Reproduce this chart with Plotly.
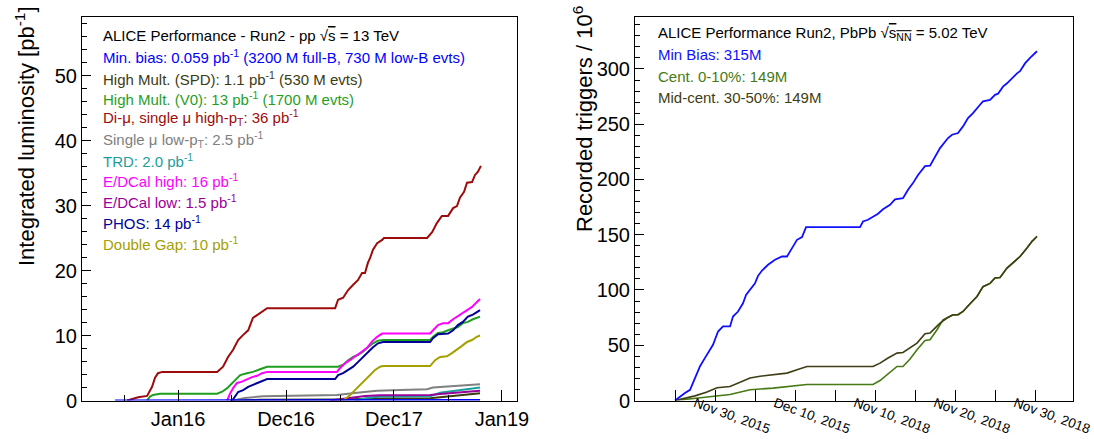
import pandas as pd
import plotly.graph_objects as go

# ---------------- Left panel: pp 13 TeV, integrated luminosity (pb^-1) ----------------
START = "2016-01-01"   # x values below are days since START

mb_days = [-213, -54, 301, 696, 1021]
mb_lumi = [0, 0.01, 0.025, 0.04, 0.059]

spd_days = [176, 277, 548, 683, 852, 902, 970, 1021]
spd_lumi = [0, 0.1, 0.15, 0.3, 0.35, 0.55, 0.85, 1.1]

v0_days = [-105, -95, -85, -61, 132, 149, 166, 183, 199, 210, 233, 253, 277, 301,
           541, 558, 575, 592, 608, 625, 642, 659, 676, 693,
           852, 862, 879, 896, 913, 930, 946, 963, 980, 997, 1021]
v0_lumi = [0, 0.6, 0.85, 1.05, 1.05, 1.35, 1.9, 2.7, 3.4, 3.9, 4.2, 4.4, 4.8, 5.2,
           5.2, 5.5, 6.2, 6.7, 7.0, 7.5, 8.2, 8.8, 9.2, 9.3,
           9.3, 9.8, 10.4, 10.5, 10.8, 11.0, 11.3, 11.9, 12.1, 12.5, 12.9]

dimu_days = [-172, -135, -105, -88, -78, -68, -54,
             132, 152, 169, 186, 203, 220, 237, 253, 270, 284, 301,
             531, 541, 558, 575, 592, 608, 622, 632, 642, 649, 659, 673, 690, 696,
             842, 859, 875, 892, 913, 930, 943, 953, 967, 977, 994, 1004, 1014, 1024]
dimu_lumi = [0, 0.5, 0.7, 2.1, 3.5, 4.2, 4.4,
             4.4, 5.2, 6.7, 7.8, 9.3, 10.1, 10.8, 12.7, 13.2, 13.6, 14.2,
             14.2, 15.5, 15.8, 17.0, 17.8, 18.5, 19.6, 19.6, 21.2, 21.9, 23.2, 24.2, 24.7, 25.0,
             25.0, 25.9, 27.3, 28.4, 28.4, 29.6, 29.9, 31.2, 32.1, 33.5, 33.6, 34.7, 35.2, 36.1]

mulow_days = [186, 226, 287, 412, 537, 605, 673, 750, 842, 862, 936, 1021]
mulow_lumi = [0, 0.4, 0.65, 0.75, 0.85, 1.2, 1.5, 1.6, 1.75, 2.0, 2.25, 2.5]

trd_days = [598, 639, 683, 852, 886, 953, 1021]
trd_lumi = [0, 0.4, 0.6, 0.65, 1.2, 1.6, 2.0]

emch_days = [166, 176, 186, 199, 216, 233, 250, 267, 284, 301,
             537, 548, 564, 581, 598, 615, 639, 656, 673, 690,
             852, 862, 879, 896, 913, 930, 943, 960, 977, 994, 1007, 1021]
emch_lumi = [0, 1.1, 1.9, 2.7, 2.9, 3.3, 3.6, 3.8, 4.2, 4.4,
             4.4, 5.0, 5.7, 6.2, 6.7, 7.3, 8.1, 9.1, 9.8, 10.3,
             10.3, 10.8, 11.6, 11.9, 11.9, 12.5, 12.9, 13.4, 13.9, 14.4, 15.0, 15.6]

emcl_days = [514, 564, 632, 683, 852, 886, 953, 1021]
emcl_lumi = [0, 0.3, 0.7, 0.8, 0.85, 1.0, 1.2, 1.5]

phos_days = [183, 193, 203, 220, 237, 253, 270, 287, 301,
             531, 541, 558, 575, 592, 608, 625, 642, 659, 676, 693,
             852, 862, 879, 896, 913, 930, 946, 963, 980, 997, 1021]
phos_lumi = [0, 0.7, 1.3, 1.6, 2.1, 2.4, 2.7, 3.0, 3.3,
             3.3, 3.9, 4.2, 4.7, 5.2, 5.9, 6.7, 7.5, 8.2, 8.8, 9.0,
             9.0, 9.6, 10.2, 10.3, 10.3, 10.8, 11.6, 12.1, 12.9, 13.2, 13.9]

dg_days = [558, 581, 598, 615, 632, 649, 666, 683, 693,
           852, 869, 886, 909, 926, 943, 960, 977, 994, 1010, 1021]
dg_lumi = [0, 0.8, 1.6, 2.4, 3.2, 3.9, 4.7, 5.2, 5.3,
           5.3, 6.2, 6.7, 6.8, 7.3, 7.8, 8.4, 9.0, 9.3, 9.8, 10.0]

left_title = "ALICE Performance - Run2 - pp √<span style='text-decoration:overline'>s</span> = 13 TeV"
left_labels = [
    "Min. bias: 0.059 pb<sup>-1</sup> (3200 M full-B, 730 M low-B evts)",
    "High Mult. (SPD): 1.1 pb<sup>-1</sup> (530 M evts)",
    "High Mult. (V0): 13 pb<sup>-1</sup> (1700 M evts)",
    "Di-μ, single μ high-p<sub>T</sub>: 36 pb<sup>-1</sup>",
    "Single μ low-p<sub>T</sub>: 2.5 pb<sup>-1</sup>",
    "TRD: 2.0 pb<sup>-1</sup>",
    "E/DCal high: 16 pb<sup>-1</sup>",
    "E/DCal low: 1.5 pb<sup>-1</sup>",
    "PHOS: 14 pb<sup>-1</sup>",
    "Double Gap: 10 pb<sup>-1</sup>",
]
left_colors = ["#0000ff", "#3b3b14", "#1f9f1f", "#9e0b0b", "#808080",
               "#1a9e9e", "#ff00ff", "#990099", "#000099", "#a3a000"]

left_tick_dates = ["2016-01-01", "2016-12-31", "2017-12-31", "2018-12-31"]
left_tick_text = ["Jan16", "Dec16", "Dec17", "Jan19"]
left_minor_dates = ["2015-07-03", "2016-07-01", "2017-07-02", "2018-07-02"]
left_range = ["2015-02-10", "2019-02-20"]

# ---------------- Right panel: PbPb 5.02 TeV, recorded triggers (10^6) ----------------
# x: running-day index of the combined 2015 + 2018 Pb-Pb periods
mbpb_day = [0, 0.63, 1.25, 1.88, 2.25, 2.75, 3.13, 3.75, 4.38, 4.75, 5.38, 6.0, 6.88, 7.25,
            7.88, 8.5, 8.88, 9.38, 10.0, 10.38, 10.88, 11.63, 12.5, 13.38, 14.0, 14.63,
            15.25, 15.88, 16.38, 23.13, 23.5, 24.13, 24.75, 25.38, 26.0, 26.88, 27.5, 28.5,
            29.13, 29.75, 30.38, 31.0, 31.25, 31.88, 32.5, 33.13, 34.13, 34.63, 35.38, 36.0,
            36.63, 37.25, 38.13, 38.5, 39.38, 40.0, 40.38, 41.0, 41.5, 42.13, 42.75, 43.13,
            43.75, 44.38, 45.25]
mbpb_trig = [0, 3.6, 6.7, 9.7, 16, 25, 31, 38.6, 45.9, 50.4, 62.4, 67, 67, 76,
             80.5, 88, 95.6, 100.2, 106, 112.8, 117.6, 122.8, 127.3, 130.3, 130.3, 137.9,
             145.4, 147.9, 156.9, 156.9, 162, 163.5, 166, 169, 173, 177, 182, 183,
             190.7, 196.7, 204, 210, 212, 212.4, 221, 228.4, 237.5, 240.5, 242, 248,
             255.6, 260, 267.6, 270.6, 272, 276.6, 277.6, 284, 287, 292, 296, 298,
             305, 310, 316]

cent_day = [0, 2.5, 4.75, 6.88, 9.38, 12.25, 16.5, 24.75, 25.63, 26.63, 27.75, 28.5,
            29.38, 30.25, 31.25, 31.88, 32.75, 33.5, 34.63, 35.38, 36.0, 36.88, 37.75,
            38.5, 39.38, 40.0, 40.63, 41.5, 42.25, 43.13, 44.0, 44.63, 45.25]
cent_trig = [0, 2.1, 4.2, 5.4, 9.7, 11.2, 14.5, 14.5, 18.1, 24.2, 30.8, 30.8,
             37.5, 45.9, 54.3, 55, 64, 73, 77.2, 77.6, 80.6, 87.5, 94.1,
             103, 106, 110.8, 111.3, 119.8, 124.3, 130.3, 138, 144, 148.6]

mid_day = [0, 2.5, 4.0, 5.25, 6.88, 8.13, 9.38, 10.63, 12.25, 14.0, 15.25, 16.5, 24.75,
           25.63, 26.63, 27.75, 28.5, 29.38, 30.25, 31.25, 31.88, 32.5, 33.13, 34.0, 34.75,
           35.38, 36.0, 36.88, 37.75, 38.5, 39.38, 40.0, 40.63, 41.5, 42.25, 43.13, 44.0,
           44.63, 45.25]
mid_trig = [0, 4.2, 7.6, 11.5, 12.7, 16.6, 20.3, 22, 23.6, 24.8, 27.8, 30.8, 30.8,
            33.8, 38.4, 42.9, 43.4, 47.4, 51.9, 60.4, 61, 65.5, 70, 74.6, 77.6,
            77.6, 80.6, 87.5, 94.1, 103, 106, 110.8, 111.3, 119.8, 124.3, 130.3, 138,
            144, 148.4]

right_title = "ALICE Performance Run2, PbPb √<span style='text-decoration:overline'>s<sub>NN</sub></span> = 5.02 TeV"
right_labels = ["Min Bias: 315M", "Cent. 0-10%: 149M", "Mid-cent. 30-50%: 149M"]
right_colors = ["#1010ff", "#467a14", "#3e3e14"]

right_tick_vals = [5, 15, 25, 35, 45]
right_tick_text = ["Nov 30, 2015", "Dec 10, 2015", "Nov 10, 2018", "Nov 20, 2018", "Nov 30, 2018"]
right_minor_vals = [0, 10, 20, 30, 40]

# ---------------- Build figure ----------------
W, H = 1094, 439
FONT = "Liberation Sans, Arial, Helvetica, sans-serif"
start = pd.Timestamp(START)


def to_dates(days):
    return start + pd.to_timedelta(days, unit="D")


fig = go.Figure()

left_series = [
    (spd_days, spd_lumi, left_colors[1]),
    (v0_days, v0_lumi, left_colors[2]),
    (dimu_days, dimu_lumi, left_colors[3]),
    (mulow_days, mulow_lumi, left_colors[4]),
    (trd_days, trd_lumi, left_colors[5]),
    (emch_days, emch_lumi, left_colors[6]),
    (emcl_days, emcl_lumi, left_colors[7]),
    (phos_days, phos_lumi, left_colors[8]),
    (dg_days, dg_lumi, left_colors[9]),
    (mb_days, mb_lumi, left_colors[0]),
]
for d, v, c in left_series:
    fig.add_trace(go.Scatter(x=to_dates(d), y=v, mode="lines",
                             line=dict(color=c, width=2), xaxis="x", yaxis="y",
                             showlegend=False, hoverinfo="skip"))

for d, v, c, w in [(cent_day, cent_trig, right_colors[1], 1.6),
                   (mid_day, mid_trig, right_colors[2], 1.6),
                   (mbpb_day, mbpb_trig, right_colors[0], 1.8)]:
    fig.add_trace(go.Scatter(x=d, y=v, mode="lines", line=dict(color=c, width=w),
                             xaxis="x2", yaxis="y2", showlegend=False, hoverinfo="skip"))

ydom = [1 - 400.5 / H, 1 - 17 / H]
axis_common = dict(showline=True, mirror=True, linecolor="black", linewidth=1,
                   showgrid=False, zeroline=False, ticks="inside", tickcolor="black",
                   automargin=False,
                   tickfont=dict(family=FONT, size=20, color="black"))

fig.update_layout(
    template="none",
    width=W, height=H, autosize=False, margin=dict(l=0, r=0, t=0, b=0, pad=0),
    paper_bgcolor="white", plot_bgcolor="white",
    font=dict(family=FONT, color="black"),
    xaxis=dict(axis_common, type="date", domain=[82 / W, 517 / W], anchor="y",
               range=left_range, tickmode="array", tickvals=left_tick_dates,
               ticktext=left_tick_text, ticklen=11,
               minor=dict(tickmode="array", tickvals=left_minor_dates, ticks="inside",
                          ticklen=6, tickcolor="black")),
    yaxis=dict(axis_common, domain=ydom, anchor="x", range=[0, 59], dtick=10, ticklen=9,
               minor=dict(dtick=2, ticks="inside", ticklen=5, tickcolor="black")),
    xaxis2=dict(axis_common, domain=[635 / W, 1073 / W], anchor="y2", range=[-5, 49.75],
                tickmode="array", tickvals=right_tick_vals, ticktext=right_tick_text,
                ticklen=11, tickangle=20, ticklabelshift=-20, ticklabelstandoff=-11,
                ticklabeloverflow="allow",
                tickfont=dict(family=FONT, size=13.5, color="black"),
                minor=dict(tickmode="array", tickvals=right_minor_vals, ticks="inside",
                           ticklen=11, tickcolor="black")),
    yaxis2=dict(axis_common, domain=ydom, anchor="x2", range=[0, 347], dtick=50, ticklen=9,
                minor=dict(dtick=10, ticks="inside", ticklen=5, tickcolor="black")),
)

ann = []
# axis titles
ann.append(dict(text="Integrated luminosity [pb<sup>-1</sup>]", x=25 / W, y=1 - 4 / H,
                xref="paper", yref="paper", xanchor="center", yanchor="top",
                textangle=-90, showarrow=False, font=dict(family=FONT, size=22, color="black")))
ann.append(dict(text="Recorded triggers / 10<sup>6</sup>", x=583 / W, y=1 - 4 / H,
                xref="paper", yref="paper", xanchor="center", yanchor="top",
                textangle=-90, showarrow=False, font=dict(family=FONT, size=22, color="black")))
# left legend text
left_y = [35, 57, 78, 98, 118, 139, 160, 181, 201, 222, 243]
for txt, col, yy in zip([left_title] + left_labels, ["black"] + left_colors, left_y):
    ann.append(dict(text=txt, x=101 / W, y=1 - yy / H, xref="paper", yref="paper",
                    xanchor="left", yanchor="middle", showarrow=False,
                    font=dict(family=FONT, size=15, color=col)))
# right legend text
right_y = [33, 55, 77, 97]
for txt, col, yy in zip([right_title] + right_labels, ["black"] + right_colors, right_y):
    ann.append(dict(text=txt, x=656 / W, y=1 - yy / H, xref="paper", yref="paper",
                    xanchor="left", yanchor="middle", showarrow=False,
                    font=dict(family=FONT, size=15, color=col)))
fig.update_layout(annotations=ann)

fig.write_html("out.html",
               config={"responsive": False, "displayModeBar": False},
               post_script="document.body.style.margin='0px';document.body.style.overflow='hidden';")
